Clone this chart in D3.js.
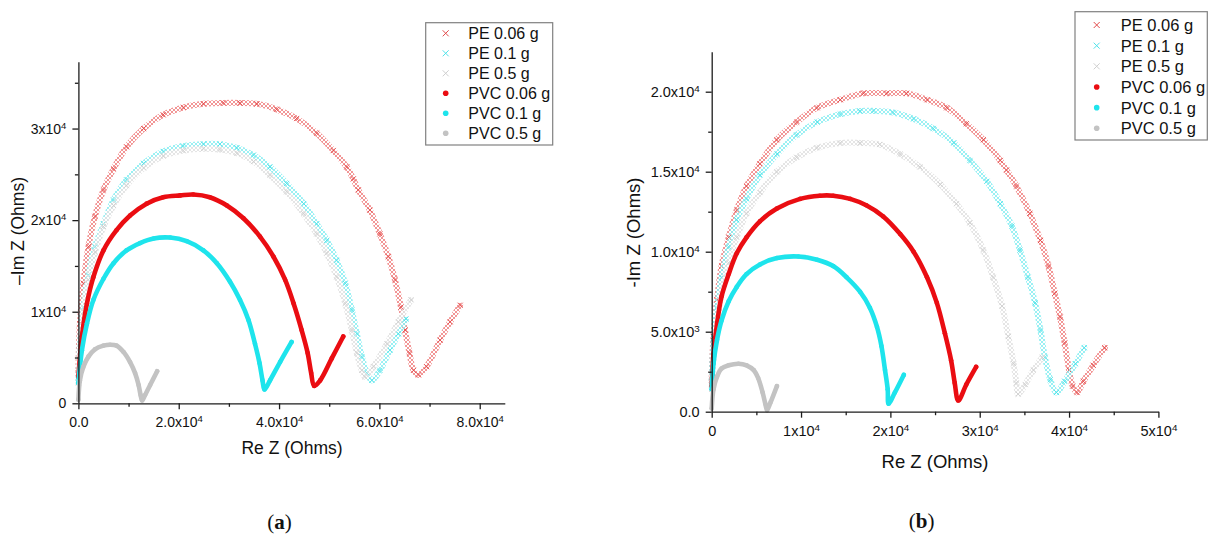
<!DOCTYPE html>
<html>
<head>
<meta charset="utf-8">
<script src="https://cdn.jsdelivr.net/npm/d3@7"></script>
<style>
  html, body { margin: 0; padding: 0; background: #fff; }
  svg { display: block; }
  text { font-family: "Liberation Sans", Arial, Helvetica, sans-serif; fill: #111; }
</style>
</head>
<body>
<svg id="fig" width="1211" height="539"></svg>
<script>
// Series names (legend order)
const seriesNames = ["PE 0.06 g", "PE 0.1 g", "PE 0.5 g", "PVC 0.06 g", "PVC 0.1 g", "PVC 0.5 g"];

// Axis ticks and their labels ("^" marks a superscript exponent)
const aXTicks = [0, 20000, 40000, 60000, 80000];
const aXTickLabels = ["0.0", "2.0x10^4", "4.0x10^4", "6.0x10^4", "8.0x10^4"];
const aYTicks = [0, 10000, 20000, 30000];
const aYTickLabels = ["0", "1x10^4", "2x10^4", "3x10^4"];
const bXTicks = [0, 10000, 20000, 30000, 40000, 50000];
const bXTickLabels = ["0", "1x10^4", "2x10^4", "3x10^4", "4x10^4", "5x10^4"];
const bYTicks = [0, 5000, 10000, 15000, 20000];
const bYTickLabels = ["0.0", "5.0x10^3", "1.0x10^4", "1.5x10^4", "2.0x10^4"];

// Nyquist data for panel (a): [Re Z, -Im Z] in ohms
const aPE006 = [[0,3300],[300,8700],[1000,13100],[2000,17100],[3300,20400],[5000,23300],[7000,25600],[9600,28000],[13000,30000],[16900,31500],[20900,32300],[24900,32700],[28900,32800],[32200,32800],[35600,32700],[39500,32100],[43500,31100],[47500,29500],[50800,27600],[53500,25800],[54800,24500],[55800,23300],[58100,21100],[60100,18500],[61800,16000],[63100,13500],[64300,10500],[65100,8000],[66000,5500],[66800,3600],[67800,3100],[69400,4000],[72100,6900],[74100,8900],[76100,10700]];
const aPE01 = [[0,2500],[300,6500],[1000,10500],[2000,14000],[3300,17100],[5000,19600],[7000,22200],[9600,24400],[13000,26200],[16900,27500],[20900,28100],[24900,28300],[28200,28300],[31600,27900],[34900,27100],[38200,25800],[41500,24000],[44900,21800],[47500,19600],[49500,17800],[51500,15600],[53200,13100],[54500,10200],[55500,7600],[56500,5100],[57500,3300],[58500,2500],[60100,3600],[62100,5800],[63800,7600],[65300,9200]];
const aPE05 = [[0,2200],[300,6200],[1000,10000],[2000,13500],[3300,16500],[5000,19300],[7000,21600],[9600,23800],[13000,25700],[16900,27000],[20900,27600],[24900,27800],[28200,27700],[31600,27300],[34900,26400],[38200,24900],[41500,23100],[44900,20700],[47500,18500],[49500,16400],[51500,13800],[53200,10900],[54500,8000],[55500,5500],[56500,3600],[57100,2900],[58800,4000],[61500,6500],[63800,8900],[66300,11300]];
const aPVC006 = [[0,2900],[700,7300],[1700,10900],[3000,13800],[5000,16700],[7600,18900],[10300,20500],[13600,21800],[16900,22500],[20300,22700],[22900,22800],[26200,22500],[29600,21600],[32900,20200],[36200,18200],[38900,16000],[41200,13500],[42900,10900],[44500,8000],[45700,5500],[46400,3300],[47000,1900],[48200,2500],[50500,4900],[52800,7300]];
const aPVC01 = [[0,2200],[700,5800],[1700,8700],[3000,11300],[5000,13600],[7000,15300],[9600,16700],[12300,17500],[15000,18000],[18300,18100],[21600,17700],[24900,16700],[27600,15300],[30200,13300],[32200,11300],[33900,9100],[35200,6500],[36100,4400],[36700,2500],[37100,1500],[38200,2500],[40200,4500],[42500,6700]];
const aPVC05 = [[0,400],[300,2500],[1000,4000],[2000,5100],[3300,5900],[5000,6300],[6300,6400],[7600,6300],[9000,5600],[10300,4500],[11300,3300],[12000,2000],[12400,900],[12700,300],[13300,900],[14300,2000],[15700,3500]];

// Nyquist data for panel (b): [Re Z, -Im Z] in ohms
const bPE006 = [[0,2000],[200,4700],[600,7000],[1100,9100],[1900,10900],[2800,12600],[3900,14100],[5400,15500],[7300,17000],[9500,18100],[11800,19000],[14400,19500],[17000,19900],[19600,19900],[21800,19900],[24100,19500],[26300,19000],[28500,18000],[30400,17000],[32300,15700],[33000,15100],[34100,14100],[35600,12400],[36800,10700],[37700,9100],[38400,7400],[39000,5900],[39500,4300],[40000,2600],[40400,1600],[40900,1200],[41600,1900],[42700,2900],[44000,4000]];
const bPE01 = [[0,1900],[200,4300],[600,6500],[1100,8400],[1900,10300],[2800,12000],[3900,13300],[5400,14800],[7300,16100],[9500,17300],[11800,18100],[14400,18600],[16600,18800],[18100,18800],[20300,18700],[22600,18300],[24800,17700],[27100,16800],[28900,15700],[30800,14400],[32300,13000],[33600,11600],[34500,10100],[35400,8400],[36200,6800],[36800,5100],[37300,3400],[37900,2000],[38600,1200],[39500,1900],[40700,3000],[41700,4000]];
const bPE05 = [[0,1400],[200,3400],[600,5500],[1100,7400],[1900,9300],[2800,10900],[3900,12400],[5400,13700],[7300,15000],[9500,15900],[11800,16500],[14400,16800],[16600,16800],[18800,16700],[21100,16100],[23300,15300],[25600,14200],[27400,13000],[28900,11800],[30400,10100],[31500,8400],[32500,6600],[33200,4700],[33800,3000],[34100,1800],[34300,1100],[35100,1700],[36000,2600],[37000,3400]];
const bPVC006 = [[0,1600],[200,3600],[600,5500],[1100,7200],[1900,8600],[2800,9900],[3900,10900],[5400,11900],[7300,12700],[9900,13300],[12100,13500],[13600,13500],[15500,13300],[17300,12900],[19200,12200],[21100,11100],[22600,10000],[24100,8400],[25200,6800],[26100,4900],[26800,3200],[27200,1800],[27600,700],[28500,1700],[29600,2800]];
const bPVC01 = [[0,1400],[200,3000],[600,4500],[1100,5700],[1900,6900],[2800,7800],[3900,8600],[5400,9200],[7300,9600],[9700,9700],[11800,9500],[13600,9100],[15100,8400],[16600,7500],[17700,6500],[18500,5300],[19000,4100],[19400,2600],[19700,1400],[19800,500],[20500,1200],[21500,2300]];
const bPVC05 = [[0,200],[200,1400],[600,2200],[1100,2700],[1900,2900],[3000,3000],[3900,2900],[4700,2600],[5200,2100],[5700,1200],[6000,500],[6200,100],[6600,600],[7300,1600]];

// ---- drawing ----
const svg = d3.select("#fig");
svg.append("rect").attr("width", 1211).attr("height", 539).attr("fill", "#fff");
const defs = svg.append("defs");

const styles = [
  { kind: "x",   color: "#e34a4a", band: "#f08a8a" },
  { kind: "x",   color: "#4fe3ea", band: "#8eeef2" },
  { kind: "x",   color: "#cfcfcf", band: "#e2e2e2" },
  { kind: "dot", color: "#ea0d12" },
  { kind: "dot", color: "#1ee4ec" },
  { kind: "dot", color: "#c3c3c3" }
];

// Cross-hatch patterns that give the dense "x" marker bands their texture
styles.forEach((s, i) => {
  if (s.kind !== "x") return;
  const p = defs.append("pattern").attr("id", "hatch" + i)
    .attr("patternUnits", "userSpaceOnUse").attr("width", 4).attr("height", 4);
  p.append("path").attr("d", "M0,0L4,4M4,0L0,4")
    .attr("stroke", s.band).attr("stroke-width", 0.9).attr("fill", "none");
});

function addTickText(axisG, labels) {
  axisG.selectAll(".tick text").each(function (d, i) {
    const t = d3.select(this);
    const parts = labels[i].split("^");
    t.text(null);
    t.append("tspan").text(parts[0]);
    if (parts[1]) t.append("tspan").attr("dy", "-0.5em").attr("font-size", "0.68em").text(parts[1]);
  });
}

function drawPanel(cfg) {
  const x = d3.scaleLinear().domain(cfg.xDomain).range(cfg.xRange);
  const y = d3.scaleLinear().domain(cfg.yDomain).range(cfg.yRange);
  const g = svg.append("g");

  // data
  const line = d3.line().x(d => x(d[0])).y(d => y(d[1])).curve(d3.curveCatmullRom.alpha(0.5));
  cfg.series.forEach((data, i) => {
    const s = styles[i];
    const sg = g.append("g");
    if (s.kind === "x") {
      sg.append("path").attr("d", line(data)).attr("fill", "none")
        .attr("stroke", "url(#hatch" + i + ")").attr("stroke-width", 6)
        .attr("stroke-linecap", "round").attr("stroke-linejoin", "round");
      sg.selectAll("path.m").data(data).join("path").attr("class", "m")
        .attr("d", d => {
          const cx = x(d[0]), cy = y(d[1]), r = 2.6;
          return `M${cx - r},${cy - r}L${cx + r},${cy + r}M${cx + r},${cy - r}L${cx - r},${cy + r}`;
        })
        .attr("stroke", s.color).attr("stroke-width", 0.9).attr("fill", "none");
    } else {
      sg.append("path").attr("d", line(data)).attr("fill", "none")
        .attr("stroke", s.color).attr("stroke-width", 4.6)
        .attr("stroke-linecap", "round").attr("stroke-linejoin", "round");
      sg.selectAll("circle").data(data).join("circle")
        .attr("cx", d => x(d[0])).attr("cy", d => y(d[1])).attr("r", 2.3).attr("fill", s.color);
    }
  });

  // axes
  const x0 = cfg.yRange[0], y0 = cfg.xRange[0];
  const xMinor = g.append("g").attr("transform", `translate(0,${x0})`)
    .call(d3.axisBottom(x).tickValues(cfg.xMinor).tickSize(3.5).tickSizeOuter(0).tickFormat(""));
  const yMinor = g.append("g").attr("transform", `translate(${y0},0)`)
    .call(d3.axisLeft(y).tickValues(cfg.yMinor).tickSize(3.5).tickSizeOuter(0).tickFormat(""));
  [xMinor, yMinor].forEach(a => a.select(".domain").remove());

  const xa = g.append("g").attr("transform", `translate(0,${x0})`)
    .call(d3.axisBottom(x).tickValues(cfg.xTicks).tickSize(6).tickSizeOuter(0).tickPadding(8));
  const ya = g.append("g").attr("transform", `translate(${y0},0)`)
    .call(d3.axisLeft(y).tickValues(cfg.yTicks).tickSize(6).tickSizeOuter(0).tickPadding(6));
  [xa, ya].forEach(a => a.attr("font-size", cfg.tickFont).attr("font-family", null));
  addTickText(xa, cfg.xTickLabels);
  addTickText(ya, cfg.yTickLabels);
  g.selectAll(".domain, .tick line").attr("stroke", "#1c1c1c").attr("stroke-width", 1.3);
  g.selectAll(".tick text").attr("fill", "#111");

  // axis titles
  g.append("text").attr("x", cfg.xTitle[0]).attr("y", cfg.xTitle[1])
    .attr("text-anchor", "middle").attr("dominant-baseline", "central")
    .attr("font-size", cfg.titleFont).text("Re Z (Ohms)");
  g.append("text").attr("transform", `translate(${cfg.yTitle[0]},${cfg.yTitle[1]}) rotate(-90)`)
    .attr("text-anchor", "middle").attr("dominant-baseline", "central")
    .attr("font-size", cfg.titleFont).text(cfg.yTitleText);

  // legend
  const L = cfg.legend;
  g.append("rect").attr("x", L.x).attr("y", L.y).attr("width", L.w).attr("height", L.h)
    .attr("fill", "#fff").attr("stroke", "#808080").attr("stroke-width", 1.2);
  seriesNames.forEach((name, i) => {
    const s = styles[i];
    const cy = L.row0 + i * L.step;
    if (s.kind === "x") {
      const r = 3;
      g.append("path")
        .attr("d", `M${L.mx - r},${cy - r}L${L.mx + r},${cy + r}M${L.mx + r},${cy - r}L${L.mx - r},${cy + r}`)
        .attr("stroke", s.color).attr("stroke-width", 1).attr("fill", "none");
    } else {
      g.append("circle").attr("cx", L.mx).attr("cy", cy).attr("r", 2.8).attr("fill", s.color);
    }
    g.append("text").attr("x", L.tx).attr("y", cy).attr("dominant-baseline", "central")
      .attr("font-size", L.font).text(name);
  });

  // panel caption
  const cap = svg.append("text").attr("x", cfg.caption[0]).attr("y", cfg.caption[1])
    .attr("text-anchor", "middle").attr("font-size", 21)
    .style("font-family", "'Liberation Serif', 'DejaVu Serif', serif");
  cap.append("tspan").text("(");
  cap.append("tspan").attr("font-weight", "bold").text(cfg.captionLetter);
  cap.append("tspan").text(")");
}

drawPanel({
  series: [aPE006, aPE01, aPE05, aPVC006, aPVC01, aPVC05],
  xDomain: [0, 85000], xRange: [78.4, 504.8],
  yDomain: [0, 37300], yRange: [403.3, 61.7],
  xTicks: aXTicks, xTickLabels: aXTickLabels, yTicks: aYTicks, yTickLabels: aYTickLabels,
  xMinor: [10000, 30000, 50000, 70000], yMinor: [5000, 15000, 25000, 35000],
  tickFont: 14, titleFont: 17.5,
  xTitle: [292, 448], yTitle: [18, 231], yTitleText: "\u2013Im Z (Ohms)",
  legend: { x: 425.7, y: 22.7, w: 127, h: 122.3, row0: 33.3, step: 20, mx: 445.7, tx: 468.3, font: 16 },
  caption: [279.5, 529], captionLetter: "a"
});

drawPanel({
  series: [bPE006, bPE01, bPE05, bPVC006, bPVC01, bPVC05],
  xDomain: [0, 50000], xRange: [711.7, 1158.4],
  yDomain: [0, 22500], yRange: [411.7, 51.7],
  xTicks: bXTicks, xTickLabels: bXTickLabels, yTicks: bYTicks, yTickLabels: bYTickLabels,
  xMinor: [5000, 15000, 25000, 35000, 45000], yMinor: [2500, 7500, 12500, 17500],
  tickFont: 14.5, titleFont: 18.5,
  xTitle: [935, 461.7], yTitle: [633, 232.5], yTitleText: "-Im Z (Ohms)",
  legend: { x: 1075, y: 11.7, w: 132.3, h: 128.3, row0: 25, step: 20.66, mx: 1096.7, tx: 1120.7, font: 16.5 },
  caption: [921.7, 528], captionLetter: "b"
});
</script>
</body>
</html>
